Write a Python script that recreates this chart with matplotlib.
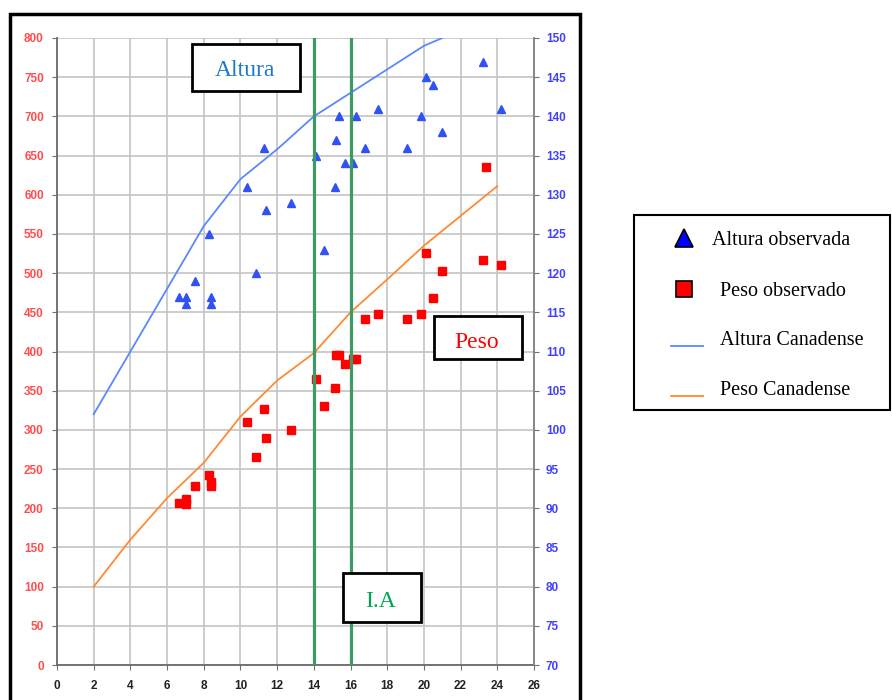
import matplotlib
matplotlib.use('Agg')
import matplotlib.pyplot as plt
from matplotlib.patches import Rectangle
from matplotlib.lines import Line2D

#========================= Data ===============================================
# Canadian reference curves (peso on left axis, altura on right axis)
peso_can_x = [2, 4, 6, 8, 10, 12, 14, 16, 18, 20, 22, 24]
peso_can_y = [100, 160, 213, 258, 317, 363, 398, 450, 492, 535, 573, 611]
altura_can_x = [2, 4, 6, 8, 10, 12, 14, 16, 18, 20, 21]
altura_can_y = [102, 110, 118, 126, 132, 135.8, 140, 143, 146, 149, 150]

# observed values
altura_x = [6.65, 7.05, 7.05, 7.5, 8.28, 8.37, 8.37, 10.37, 10.84, 11.28, 11.4,
            12.77, 14.1, 14.55, 15.13, 15.19, 15.37, 15.7, 16.11, 16.28, 16.79,
            17.48, 19.06, 19.84, 20.1, 20.51, 20.97, 23.22, 24.22]
altura_y = [117, 117, 116, 119, 125, 117, 116, 131, 120, 136, 128,
            129, 135, 123, 131, 137, 140, 134, 134, 140, 136,
            141, 136, 140, 145, 144, 138, 147, 141]
peso_x = [6.65, 7.05, 7.05, 7.5, 8.28, 8.37, 8.37, 10.37, 10.84, 11.28, 11.4,
          12.77, 14.1, 14.55, 15.13, 15.19, 15.37, 15.7, 16.11, 16.28, 16.79,
          17.48, 19.06, 19.84, 20.1, 20.51, 20.97, 23.22, 24.22, 23.39]
peso_y = [207, 212, 205, 228, 242, 234, 229, 310, 265, 326, 289,
          300, 365, 331, 354, 396, 396, 384, 390, 390, 441,
          448, 441, 448, 526, 468, 503, 517, 510, 636]

ia_x = [14, 16]
x_ticks = list(range(0, 27, 2))
left_ticks = list(range(0, 801, 50))
right_ticks = list(range(70, 151, 5))

#========================= Figure =============================================
W, H = 892, 700
plt.rcParams['font.family'] = ['Liberation Sans', 'DejaVu Sans']
plt.rcParams['font.weight'] = 'bold'

fig = plt.figure(figsize=(W / 100, H / 100), dpi=100)
ax = fig.add_axes([57 / W, 1 - 665 / H, 477 / W, 627 / H])
ax2 = ax.twinx()

ax.set_xlim(0, 26)
ax.set_ylim(0, 800)
ax2.set_ylim(70, 150)
ax.set_xticks(x_ticks)
ax.set_yticks(left_ticks)
ax2.set_yticks(right_ticks)

ax.grid(True, color='#C4C4C4', lw=1.2)
ax.set_axisbelow(True)

ax.plot(peso_can_x, peso_can_y, color='#FF8A33', lw=1.3)
ax.plot(peso_x, peso_y, 's', color='#FF0000', ms=6, mec='#FF0000')
ax2.plot(altura_can_x, altura_can_y, color='#5B88FF', lw=1.3)
ax2.plot(altura_x, altura_y, '^', color='#3052F5', ms=6, mec='#3052F5')
for v in ia_x:
    ax2.axvline(v, color='#3D9A62', lw=2.3, zorder=5)

for s in ['top', 'right']:
    ax.spines[s].set_visible(False)
for s in ['top', 'left', 'bottom']:
    ax2.spines[s].set_visible(False)
ax.spines['left'].set_color('#6A6A6A')
ax.spines['bottom'].set_color('#6A6A6A')
ax2.spines['right'].set_color('#808080')
for sp in [ax.spines['left'], ax.spines['bottom'], ax2.spines['right']]:
    sp.set_linewidth(1.3)

ax.tick_params(axis='y', labelcolor='#FF4D4D', color='#707070', length=3.5,
               pad=6, labelsize=8.5)
ax.tick_params(axis='x', labelcolor='#222222', color='#707070', length=3.5,
               pad=7.5, labelsize=8.5)
ax2.tick_params(axis='y', labelcolor='#4040FF', color='#707070', length=3.5,
                pad=5, labelsize=8.5)


#========================= Boxes and legend (figure pixels) ===================
def fx(px):
    return px / W


def fy(py):
    return 1 - py / H


def box(x0, y0, x1, y1, lw=2.0):
    r = Rectangle((fx(x0), fy(y1)), fx(x1) - fx(x0), fy(y0) - fy(y1),
                  transform=fig.transFigure, facecolor='white', edgecolor='black',
                  lw=lw, zorder=10, clip_on=False)
    fig.add_artist(r)


serif = dict(family='Liberation Serif', fontweight='normal', zorder=11)

# outer frame
fig.add_artist(Rectangle((fx(10), -0.05), fx(580) - fx(10), fy(14) + 0.05,
                         transform=fig.transFigure, fill=False, edgecolor='black',
                         lw=2.5, zorder=12, clip_on=False))

box(192, 44, 300, 91)
fig.text(fx(245), fy(76), 'Altura', color='#1E78C8', fontsize=17,
         ha='center', va='baseline', **serif)
box(434, 316, 522, 359)
fig.text(fx(477), fy(348), 'Peso', color='#FF0000', fontsize=17,
         ha='center', va='baseline', **serif)
box(343, 573, 421, 622)
fig.text(fx(380), fy(607), 'I.A', color='#00A651', fontsize=17,
         ha='center', va='baseline', **serif)

# legend
box(634, 215, 890, 410, lw=1.5)
fig.add_artist(Line2D([fx(684)], [fy(238)], marker='^', ms=13, color='#0000FF',
                      mec='black', mew=1.2, transform=fig.transFigure, zorder=11))
fig.add_artist(Line2D([fx(684)], [fy(289)], marker='s', ms=11.5, color='#FF0000',
                      mec='black', mew=1.2, transform=fig.transFigure, zorder=11))
fig.add_artist(Line2D([fx(671), fx(703)], [fy(346), fy(346)], color='#5B88FF',
                      lw=1.3, transform=fig.transFigure, zorder=11))
fig.add_artist(Line2D([fx(671), fx(703)], [fy(396), fy(396)], color='#FF8A33',
                      lw=1.3, transform=fig.transFigure, zorder=11))
fig.text(fx(712), fy(245), 'Altura observada', color='black', fontsize=14.5,
         ha='left', va='baseline', **serif)
fig.text(fx(720), fy(296), 'Peso observado', color='black', fontsize=14.5,
         ha='left', va='baseline', **serif)
fig.text(fx(720), fy(345), 'Altura Canadense', color='black', fontsize=14.5,
         ha='left', va='baseline', **serif)
fig.text(fx(720), fy(395), 'Peso Canadense', color='black', fontsize=14.5,
         ha='left', va='baseline', **serif)

fig.savefig('out.png', dpi=100)
